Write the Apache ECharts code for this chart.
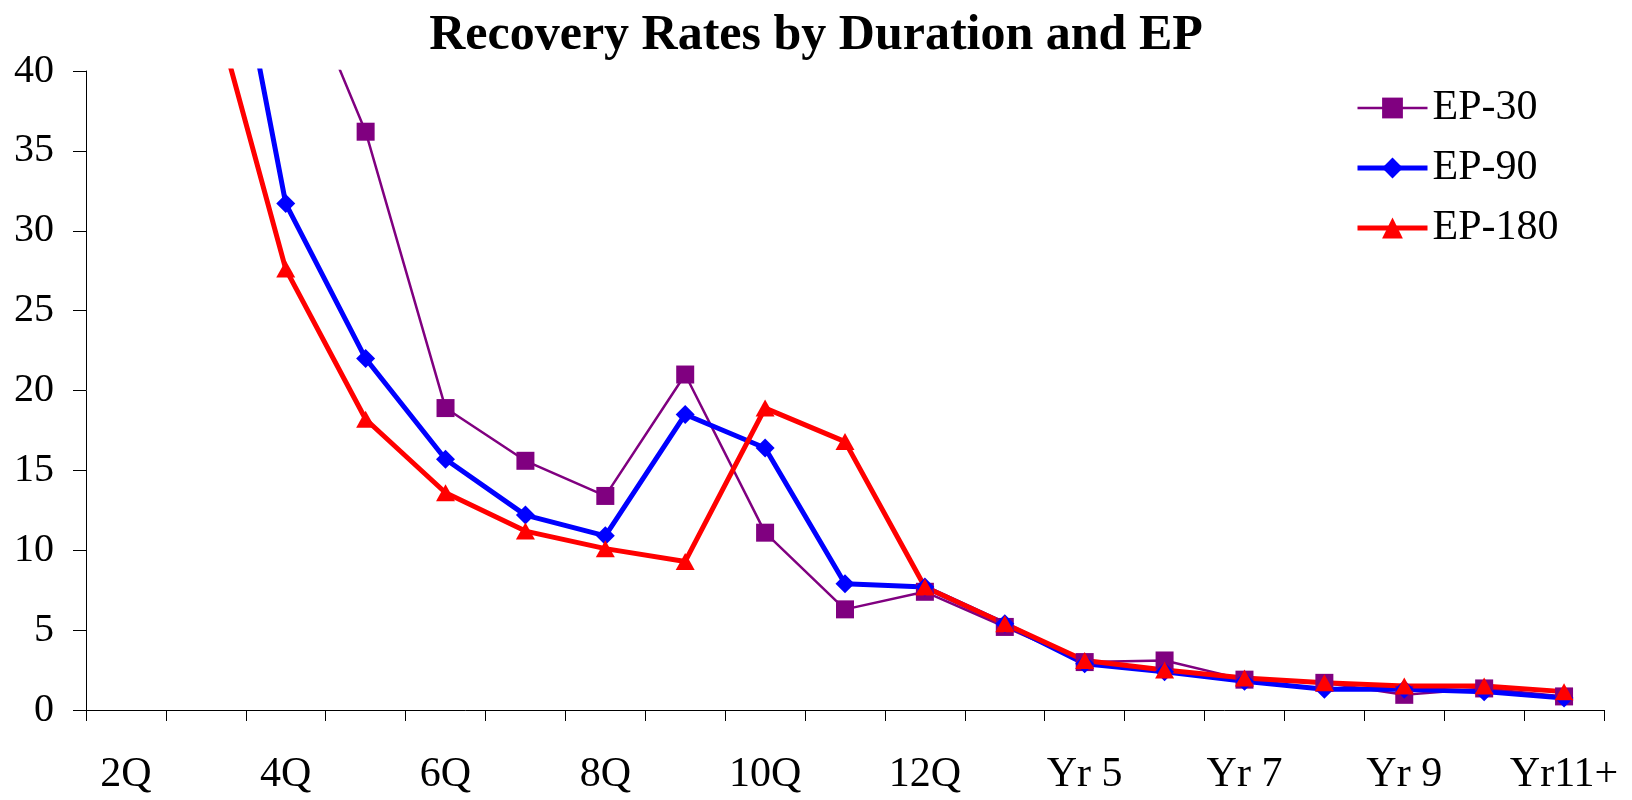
<!DOCTYPE html>
<html>
<head>
<meta charset="utf-8">
<title>Recovery Rates by Duration and EP</title>
<script src="https://cdn.jsdelivr.net/npm/echarts@6/dist/echarts.min.js"></script>
<style>
  html, body { margin: 0; padding: 0; background: #fff; }
  #chart { width: 1632px; height: 800px; }
</style>
</head>
<body>
<div id="chart"></div>
<script>
// durations on the x axis
const durations = ['2Q', '3Q', '4Q', '5Q', '6Q', '7Q', '8Q', '9Q', '10Q', '11Q', '12Q',
  'Yr 4', 'Yr 5', 'Yr 6', 'Yr 7', 'Yr 8', 'Yr 9', 'Yr 10', 'Yr11+'];

// recovery rates (first points run off the top of the chart)
const ep30 = [95, 70, 48.2, 36.2, 18.9, 15.6, 13.4, 21.0, 11.1, 6.3, 7.4, 5.2, 3.0, 3.1, 1.9, 1.7, 0.95, 1.35, 0.85];
const ep90 = [90, 57.7, 31.7, 22.0, 15.7, 12.2, 10.9, 18.5, 16.4, 7.9, 7.7, 5.4, 2.9, 2.4, 1.8, 1.3, 1.3, 1.15, 0.75];
const ep180 = [70, 45.9, 27.6, 18.2, 13.6, 11.2, 10.1, 9.3, 18.9, 16.8, 7.7, 5.4, 3.1, 2.5, 2.0, 1.7, 1.5, 1.5, 1.15];

const yTicks = [0, 5, 10, 15, 20, 25, 30, 35, 40];

const serif = '"Liberation Serif", "Times New Roman", serif';

const chart = echarts.init(document.getElementById('chart'));

const option = {
  animation: false,
  backgroundColor: '#ffffff',
  title: {
    text: 'Recovery Rates by Duration and EP',
    left: 'center',
    top: 6,
    textStyle: {
      fontFamily: serif,
      fontWeight: 'bold',
      fontSize: 50,
      color: '#000'
    }
  },
  legend: {
    orient: 'vertical',
    left: 1350,
    top: 82,
    itemWidth: 70,
    itemHeight: 26,
    itemGap: 18,
    textStyle: {
      fontFamily: serif,
      fontSize: 42,
      lineHeight: 42,
      color: '#000'
    },
    data: [
      { name: 'EP-30', lineStyle: { width: 2.5 } },
      { name: 'EP-90', lineStyle: { width: 5 } },
      { name: 'EP-180', lineStyle: { width: 5 } }
    ]
  },
  grid: {
    left: 86,
    right: 28,
    top: 71,
    bottom: 90
  },
  xAxis: {
    type: 'category',
    data: durations,
    boundaryGap: true,
    axisLine: { lineStyle: { color: '#000', width: 1 } },
    axisTick: { show: true, length: 11, interval: 0, lineStyle: { color: '#000' } },
    axisLabel: {
      interval: 1,
      margin: 44,
      fontFamily: serif,
      fontSize: 42,
      color: '#000'
    },
    splitLine: { show: false }
  },
  yAxis: {
    type: 'value',
    min: yTicks[0],
    max: yTicks[yTicks.length - 1],
    interval: 5,
    axisLine: { show: true, lineStyle: { color: '#000', width: 1 } },
    axisTick: { show: true, length: 13, lineStyle: { color: '#000' } },
    axisLabel: {
      margin: 32,
      fontFamily: serif,
      fontSize: 40,
      color: '#000'
    },
    splitLine: { show: false }
  },
  series: [
    {
      name: 'EP-30',
      type: 'line',
      data: ep30,
      symbol: 'rect',
      symbolSize: 18,
      clip: true,
      lineStyle: { color: '#800080', width: 2.5 },
      itemStyle: { color: '#800080' }
    },
    {
      name: 'EP-90',
      type: 'line',
      data: ep90,
      symbol: 'diamond',
      symbolSize: [19, 19],
      clip: true,
      lineStyle: { color: '#0000ff', width: 5 },
      itemStyle: { color: '#0000ff' }
    },
    {
      name: 'EP-180',
      type: 'line',
      data: ep180,
      symbol: 'triangle',
      symbolSize: [19, 17],
      clip: true,
      lineStyle: { color: '#ff0000', width: 5 },
      itemStyle: { color: '#ff0000' }
    }
  ]
};

chart.setOption(option);
</script>
</body>
</html>
